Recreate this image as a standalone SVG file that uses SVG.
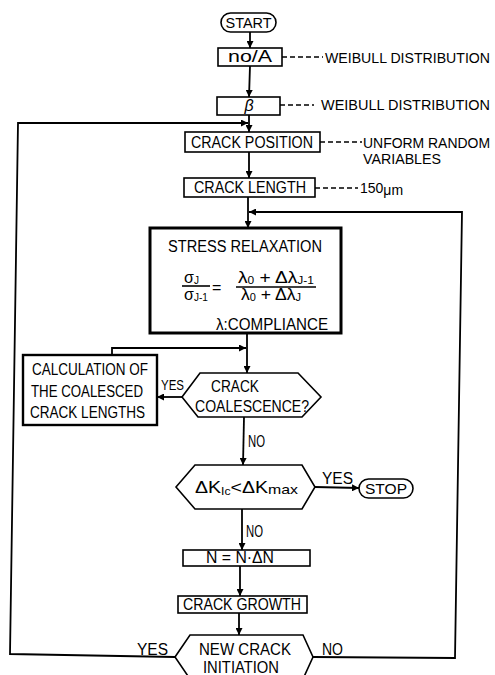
<svg xmlns="http://www.w3.org/2000/svg" width="495" height="675" viewBox="0 0 495 675">
<defs>
<marker id="ah" viewBox="0 0 10 10" refX="10" refY="5" markerWidth="7" markerHeight="7" markerUnits="userSpaceOnUse" orient="auto">
<path d="M0,0 L10,5 L0,10 z" fill="#000"/>
</marker>
<style>
text{font-family:"Liberation Sans",Arial,sans-serif;fill:#000;font-size:16px}
.box{fill:#fff;stroke:#000;stroke-width:1.6}
.thick{fill:#fff;stroke:#000;stroke-width:3}
.mid{fill:#fff;stroke:#000;stroke-width:2.4}
.ln{fill:none;stroke:#000;stroke-width:1.6}
.arr{fill:none;stroke:#000;stroke-width:1.8;marker-end:url(#ah)}
.dash{fill:none;stroke:#000;stroke-width:1.4;stroke-dasharray:5 3}
.c{text-anchor:middle}
.sm{font-size:14px}
.sub{font-size:10px}
</style>
</defs>
<rect width="495" height="675" fill="#fff"/>
<g id="connectors">
<line class="arr" x1="250" y1="32" x2="250" y2="48"/>
<line class="arr" x1="250" y1="66" x2="249" y2="97"/>
<line class="arr" x1="249" y1="115" x2="249" y2="132"/>
<line class="arr" x1="249" y1="152" x2="249" y2="178"/>
<line class="arr" x1="248" y1="197" x2="248" y2="228"/>
<line class="arr" x1="247" y1="333" x2="247" y2="373"/>
<line class="arr" x1="182" y1="397" x2="157" y2="397"/>
<polyline class="arr" points="112,355 112,348 246,348"/>
<line class="arr" x1="244" y1="417" x2="243" y2="465"/>
<line class="arr" x1="315" y1="487" x2="359" y2="488"/>
<line class="arr" x1="242" y1="509" x2="242" y2="550"/>
<line class="arr" x1="240" y1="566" x2="240" y2="596"/>
<line class="arr" x1="239" y1="613" x2="239" y2="635"/>
<polyline class="arr" points="175,657 10,654 18,123 248,123"/>
<polyline class="arr" points="313,657 455,658 462,212 249,212"/>
<line class="dash" x1="282" y1="57" x2="323" y2="57"/>
<line class="dash" x1="280" y1="105" x2="314" y2="105"/>
<line class="dash" x1="320" y1="142" x2="362" y2="142"/>
<line class="dash" x1="315" y1="188" x2="358" y2="188"/>
<text class="sm" x="161" y="390" textLength="23" lengthAdjust="spacingAndGlyphs">YES</text>
<text x="248" y="447" textLength="17" lengthAdjust="spacingAndGlyphs">NO</text>
<text x="322" y="484" textLength="31" lengthAdjust="spacingAndGlyphs">YES</text>
<text x="246" y="537" textLength="17" lengthAdjust="spacingAndGlyphs">NO</text>
<text x="137" y="655" textLength="31" lengthAdjust="spacingAndGlyphs">YES</text>
<text x="322" y="655" textLength="21" lengthAdjust="spacingAndGlyphs">NO</text>
</g>
<g id="start">
<rect class="box" x="221" y="13" width="55" height="19" rx="9.5"/>
<text class="c sm" x="248.5" y="28" textLength="46" lengthAdjust="spacingAndGlyphs">START</text>
</g>
<g id="noA">
<rect class="box" x="218" y="48" width="64" height="18"/>
<text class="c" x="250" y="62" font-size="15" textLength="44" lengthAdjust="spacingAndGlyphs">no/A</text>
<text class="sm" x="325" y="63" textLength="165" lengthAdjust="spacingAndGlyphs">WEIBULL DISTRIBUTION</text>
</g>
<g id="beta">
<rect class="box" x="217" y="97" width="63" height="18"/>
<text class="c" x="249" y="111" font-style="italic">β</text>
<text class="sm" x="321" y="110" textLength="169" lengthAdjust="spacingAndGlyphs">WEIBULL DISTRIBUTION</text>
</g>
<g id="crack-position">
<rect class="box" x="185" y="132" width="135" height="20"/>
<text class="c" x="252" y="148" textLength="122" lengthAdjust="spacingAndGlyphs">CRACK POSITION</text>
<text class="sm" x="363" y="148" textLength="127" lengthAdjust="spacingAndGlyphs">UNFORM RANDOM</text>
<text class="sm" x="363" y="164" textLength="78" lengthAdjust="spacingAndGlyphs">VARIABLES</text>
</g>
<g id="crack-length">
<rect class="box" x="184" y="178" width="131" height="19"/>
<text class="c" x="250" y="193" textLength="112" lengthAdjust="spacingAndGlyphs">CRACK LENGTH</text>
<text class="sm" x="360" y="193">150<tspan dy="2">μm</tspan></text>
</g>
<g id="stress-relaxation">
<rect class="thick" x="150" y="228" width="191" height="105"/>
<text class="c" x="245" y="252" textLength="154" lengthAdjust="spacingAndGlyphs">STRESS RELAXATION</text>
<text x="184" y="283" font-size="18">σ<tspan class="sub" dy="1">J</tspan></text>
<line class="ln" x1="182" y1="286" x2="210" y2="286"/>
<text x="184" y="300" font-size="18">σ<tspan class="sub" dy="1">J-1</tspan></text>
<text x="212" y="293" font-size="18">=</text>
<text x="238" y="283" font-size="13" textLength="76" lengthAdjust="spacingAndGlyphs">λ<tspan class="sub" dy="1">0</tspan><tspan dy="-1"> + Δλ</tspan><tspan class="sub" dy="1">J-1</tspan></text>
<line class="ln" x1="236" y1="287" x2="316" y2="287"/>
<text x="241" y="300" font-size="13" textLength="60" lengthAdjust="spacingAndGlyphs">λ<tspan class="sub" dy="1">0</tspan><tspan dy="-1"> + Δλ</tspan><tspan class="sub" dy="1">J</tspan></text>
<text x="328" y="330" text-anchor="end" textLength="112" lengthAdjust="spacingAndGlyphs">λ:COMPLIANCE</text>
</g>
<g id="calculation">
<rect class="mid" x="23" y="355" width="134" height="70"/>
<text x="32" y="375" textLength="116" lengthAdjust="spacingAndGlyphs">CALCULATION OF</text>
<text x="31" y="397" textLength="112" lengthAdjust="spacingAndGlyphs">THE COALESCED</text>
<text x="30" y="418" textLength="115" lengthAdjust="spacingAndGlyphs">CRACK LENGTHS</text>
</g>
<g id="coalescence">
<polygon class="box" points="182,397 200,373 298,373 321,397 302,417 198,417"/>
<text x="211" y="392" textLength="48" lengthAdjust="spacingAndGlyphs">CRACK</text>
<text x="195" y="412" textLength="114" lengthAdjust="spacingAndGlyphs">COALESCENCE?</text>
</g>
<g id="dk-check">
<polygon class="box" points="176,487 195,465 302,465 315,487 302,509 195,509"/>
<text x="195" y="493" textLength="103" lengthAdjust="spacingAndGlyphs">ΔK<tspan class="sub" dy="2" font-size="12">Ic</tspan><tspan dy="-2">&lt;ΔK</tspan><tspan dy="1" font-size="13">max</tspan></text>
</g>
<g id="stop">
<rect class="box" x="359" y="479" width="54" height="19" rx="9.5"/>
<text class="c sm" x="386" y="494" textLength="42" lengthAdjust="spacingAndGlyphs">STOP</text>
</g>
<g id="n-update">
<rect class="box" x="183" y="550" width="127" height="16"/>
<text class="c" x="240" y="563" font-size="13" textLength="68" lengthAdjust="spacingAndGlyphs">N = N·ΔN</text>
</g>
<g id="crack-growth">
<rect class="box" x="178" y="596" width="129" height="17"/>
<text class="c" x="242" y="610" textLength="118" lengthAdjust="spacingAndGlyphs">CRACK GROWTH</text>
</g>
<g id="new-crack">
<polygon class="box" points="175,657 190,635 303,635 313,657 303,679 190,679"/>
<text x="199" y="655" textLength="92" lengthAdjust="spacingAndGlyphs">NEW  CRACK</text>
<text x="203" y="673" textLength="76" lengthAdjust="spacingAndGlyphs">INITIATION</text>
</g>
</svg>
